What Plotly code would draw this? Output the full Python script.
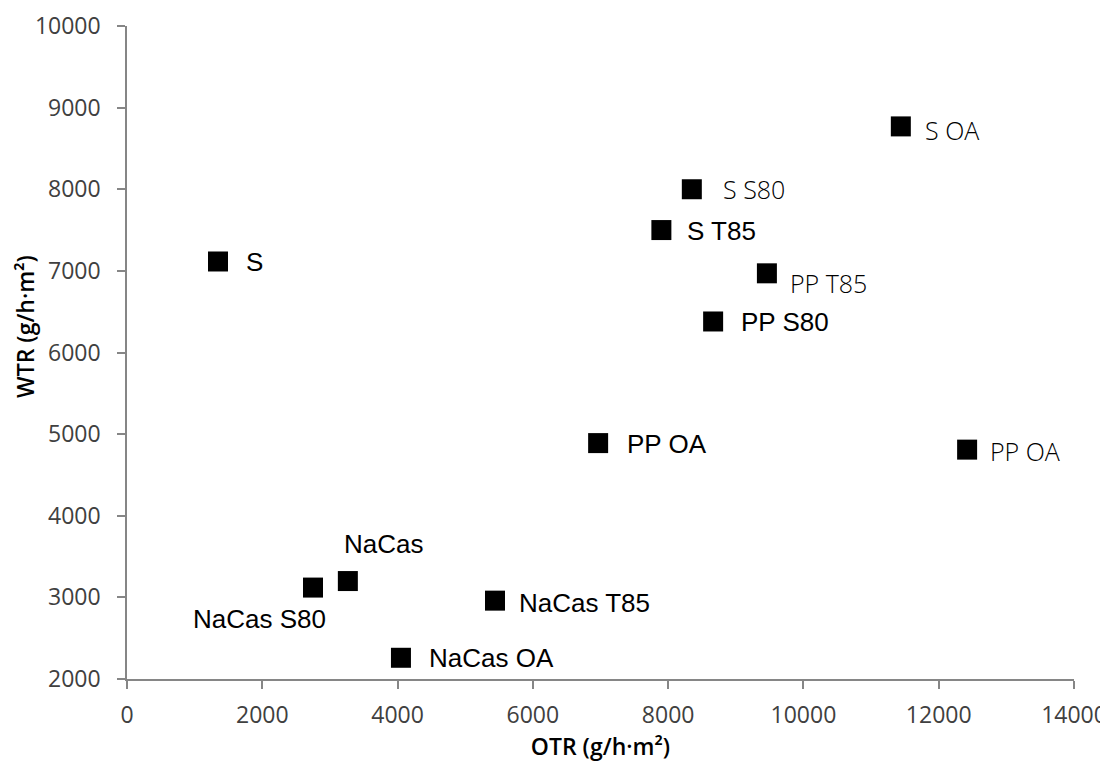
import plotly.graph_objects as go

# Data
labels = ["S", "S OA", "S S80", "S T85", "PP T85", "PP S80", "PP OA", "PP OA",
          "NaCas", "NaCas S80", "NaCas T85", "NaCas OA"]
otr = [1345, 11440, 8350, 7900, 9460, 8665, 6965, 12420, 3265, 2750, 5440, 4050]
wtr = [7115, 8770, 8000, 7500, 6970, 6380, 4890, 4810, 3200, 3120, 2960, 2260]

x_ticks = [0, 2000, 4000, 6000, 8000, 10000, 12000, 14000]
y_ticks = [2000, 3000, 4000, 5000, 6000, 7000, 8000, 9000, 10000]

# label styling: (xshift, yshift, xanchor, font family, size, weight)
arial = "Liberation Sans, Arial, sans-serif"
light = "Open Sans, sans-serif"
label_style = [
    (26, -1, "left", arial, 26, 400),
    (22, -4, "left", light, 25, 300),
    (29, 0, "left", light, 25, 300),
    (24, -1, "left", arial, 26, 400),
    (21, -10, "left", light, 25, 300),
    (26, -1, "left", arial, 26, 400),
    (27, -1, "left", arial, 26, 400),
    (21, -1, "left", light, 25, 300),
    (36, 37, "center", arial, 26, 400),
    (-54, -31, "center", arial, 26, 400),
    (22, -2, "left", arial, 26, 400),
    (26, 0, "left", arial, 26, 400),
]

fig = go.Figure()
fig.add_trace(go.Scatter(
    x=otr, y=wtr, mode="markers",
    marker=dict(symbol="square", size=20, color="black"),
    hovertext=labels, showlegend=False
))

for lab, xv, yv, st in zip(labels, otr, wtr, label_style):
    dx, dy, anchor, fam, size, weight = st
    fig.add_annotation(
        x=xv, y=yv, xref="x", yref="y", text=lab, showarrow=False,
        xanchor=anchor, yanchor="middle", xshift=dx, yshift=dy,
        font=dict(family=fam, size=size, color="black", weight=weight)
    )

# y axis title placed by hand (it sits a bit above the plot centre)
fig.add_annotation(
    x=-0.107, y=0.54, xref="paper", yref="paper", text="WTR (g/h·m²)",
    textangle=-90, showarrow=False, xanchor="center", yanchor="middle",
    font=dict(family="Open Sans, sans-serif", size=23, color="black", weight=600)
)

axis_common = dict(
    showgrid=False, zeroline=False, showline=True, linecolor="#868686", linewidth=1.5,
    ticks="outside", tickcolor="#868686", tickwidth=1.5, ticklen=8, automargin=False,
    tickfont=dict(family="Open Sans, sans-serif", size=23, color="#404040"),
)

# page body has an 8px margin, so margins are set with that offset in mind
fig.update_layout(
    width=1108, height=761,
    margin=dict(l=119, r=42, t=18, b=90),
    paper_bgcolor="white", plot_bgcolor="white",
    xaxis=dict(range=[0, 14000], tickvals=x_ticks,
               ticktext=[str(v) for v in x_ticks], ticklabelstandoff=7,
               title=dict(text="OTR (g/h·m²)", standoff=0,
                          font=dict(family="Open Sans, sans-serif", size=23,
                                    color="black", weight=600)),
               **axis_common),
    yaxis=dict(range=[2000, 10000], tickvals=y_ticks,
               ticktext=[str(v) for v in y_ticks], ticklabelstandoff=12,
               **axis_common),
)

fig.write_html("out.html")
